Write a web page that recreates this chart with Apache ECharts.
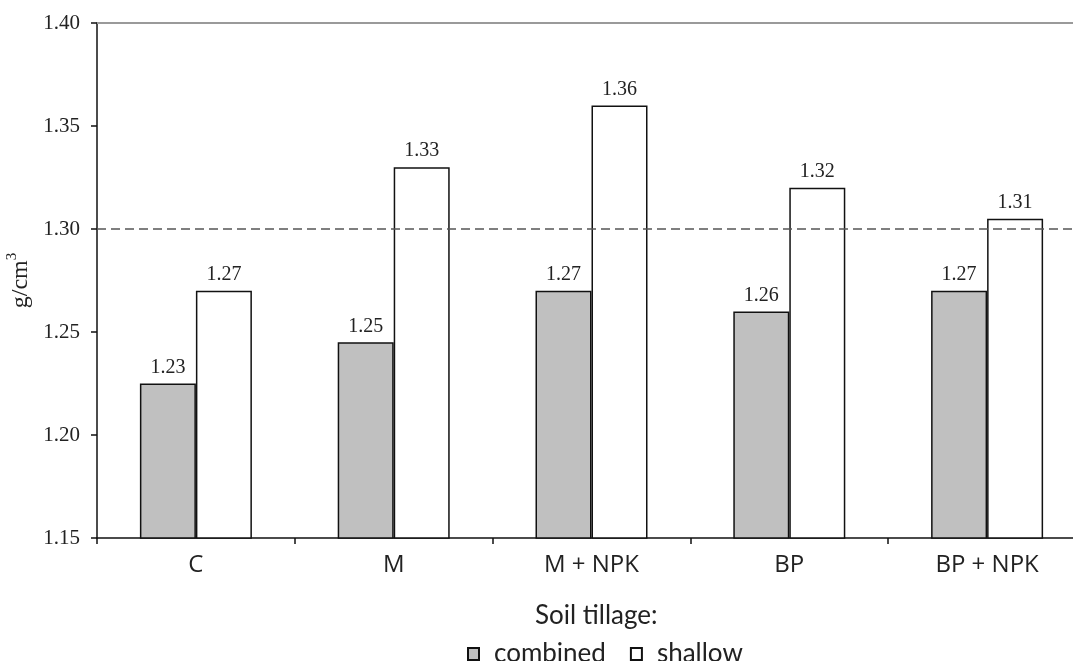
<!DOCTYPE html>
<html>
<head>
<meta charset="utf-8">
<script src="https://cdn.jsdelivr.net/npm/echarts@6/dist/echarts.min.js"></script>
<style>html,body{margin:0;padding:0;background:#fff;overflow:hidden;width:1073px;height:661px}#c{width:1100px;height:661px}</style>
</head>
<body>
<div id="c"></div>
<script>
var categories = ['C', 'M', 'M + NPK', 'BP', 'BP + NPK'];
var combined = [1.225, 1.245, 1.27, 1.26, 1.27];
var shallow = [1.27, 1.33, 1.36, 1.32, 1.305];
var combinedLabels = ['1.23', '1.25', '1.27', '1.26', '1.27'];
var shallowLabels = ['1.27', '1.33', '1.36', '1.32', '1.31'];
var referenceLine = 1.30;
var yMin = 1.15, yMax = 1.40, yStep = 0.05;

var chart = echarts.init(document.getElementById('c'));
var serif = 'Liberation Serif';
function lab(arr) {
  return {
    show: true, position: 'top', distance: 6,
    fontFamily: serif, fontSize: 20, color: '#222',
    formatter: function (p) { return arr[p.dataIndex]; }
  };
}
chart.setOption({
  animation: false,
  backgroundColor: '#fff',
  title: {
    text: 'Soil tillage:', left: 530, top: 598,
    textStyle: { fontFamily: 'Lato', fontSize: 26, fontWeight: 'normal', color: '#222' }
  },
  legend: {
    left: 462, top: 636, itemWidth: 11, itemHeight: 12, itemGap: 24,
    icon: 'rect',
    textStyle: { fontFamily: 'Lato', fontSize: 26, color: '#222', padding: [0, 0, 0, 10] },
    data: ['combined', 'shallow']
  },
  grid: { left: 97, top: 23, width: 989, height: 515, containLabel: false, outerBoundsMode: 'none' },
  xAxis: {
    type: 'category', data: categories,
    axisLine: { lineStyle: { color: '#111', width: 1.5 } },
    axisTick: { show: true, length: 6, inside: false, alignWithLabel: false, lineStyle: { color: '#111', width: 1.5 } },
    axisLabel: { fontFamily: 'Open Sans', fontSize: 24, color: '#222', margin: 15 }
  },
  yAxis: {
    type: 'value', min: yMin, max: yMax, interval: yStep,
    name: '{a|g/cm}{b|3}', nameLocation: 'middle', nameRotate: 90, nameGap: 52,
    nameTextStyle: {
      fontFamily: serif, fontSize: 24, color: '#222',
      rich: {
        a: { fontFamily: serif, fontSize: 24, color: '#222', lineHeight: 28, verticalAlign: 'bottom' },
        b: { fontFamily: serif, fontSize: 15, color: '#222', lineHeight: 15, verticalAlign: 'top' }
      }
    },
    axisLine: { show: true, lineStyle: { color: '#111', width: 1.5 } },
    axisTick: { show: true, length: 6, inside: false, lineStyle: { color: '#111', width: 1.5 } },
    axisLabel: { fontFamily: serif, fontSize: 21, color: '#222', margin: 17,
      formatter: function (v) { return v.toFixed(2); } },
    splitLine: { show: false }
  },
  series: [
    {
      name: 'combined', type: 'bar', data: combined, barWidth: 56, barGap: '0%',
      itemStyle: { color: '#c0c0c0', borderColor: '#111', borderWidth: 1.5 },
      label: lab(combinedLabels)
    },
    {
      name: 'shallow', type: 'bar', data: shallow, barWidth: 56,
      itemStyle: { color: '#ffffff', borderColor: '#111', borderWidth: 1.5 },
      label: lab(shallowLabels),
      markLine: {
        silent: true, symbol: 'none', label: { show: false },
        data: [
          { yAxis: referenceLine, lineStyle: { color: '#555', width: 1.6, type: [9, 5] } },
          { yAxis: yMax, lineStyle: { color: '#9a9a9a', width: 2, type: 'solid' } }
        ]
      }
    }
  ]
});
</script>
</body>
</html>
